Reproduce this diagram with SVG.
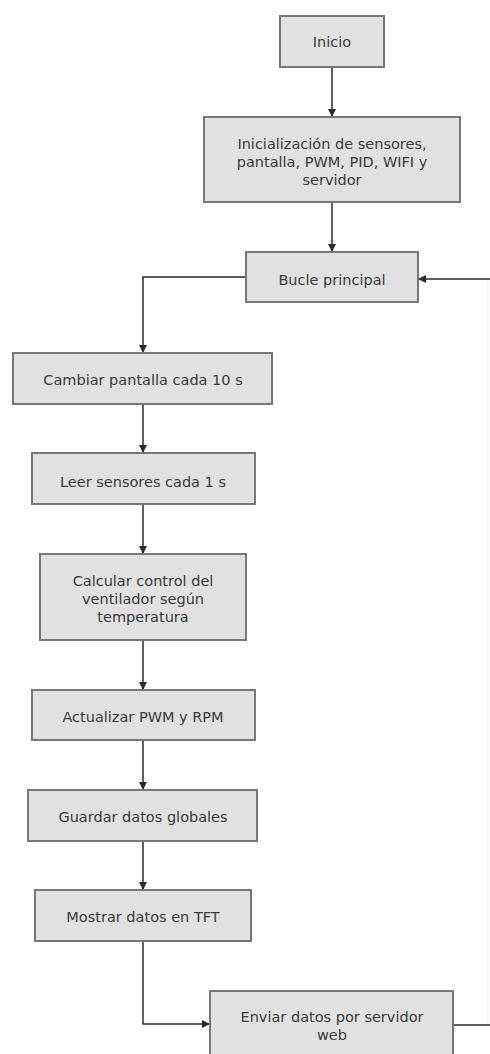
<svg xmlns="http://www.w3.org/2000/svg" width="490" height="1054" viewBox="0 0 490 1054">
<defs>
<marker id="ah" viewBox="0 0 10 10" refX="10" refY="5" markerWidth="8" markerHeight="8" markerUnits="userSpaceOnUse" orient="auto">
<path d="M0,0 L10,5 L0,10 z" fill="#2b2b2b"/>
</marker>
<style>
.box{fill:#e1e1e1;stroke:#777;stroke-width:2}
.t{font-family:"DejaVu Sans",Verdana,sans-serif;font-size:14.5px;fill:#3a3a3a;text-anchor:middle}
.c{fill:none;stroke:#2b2b2b;stroke-width:1.5}
.f{fill:none;stroke:#f0f0f0;stroke-width:1.5}
</style>
</defs>
<rect width="490" height="1054" fill="#fff"/>
<g id="connectors">
<path class="c" d="M332,67 V117" marker-end="url(#ah)"/>
<path class="c" d="M332,202 V252" marker-end="url(#ah)"/>
<path class="c" d="M246,277 H143 V353" marker-end="url(#ah)"/>
<path class="c" d="M143,404 V453" marker-end="url(#ah)"/>
<path class="c" d="M143,504 V554" marker-end="url(#ah)"/>
<path class="c" d="M143,640 V690" marker-end="url(#ah)"/>
<path class="c" d="M143,740 V790" marker-end="url(#ah)"/>
<path class="c" d="M143,841 V890" marker-end="url(#ah)"/>
<path class="c" d="M143,941 V1024 H210" marker-end="url(#ah)"/>
<path class="f" d="M488,1025 V279"/>
<path class="c" d="M453,1025 H490"/>
<path class="c" d="M490,279 H418" marker-end="url(#ah)"/>
</g>
<g id="inicio">
<rect class="box" x="280" y="16" width="104" height="51"/>
<text class="t" x="332" y="47">Inicio</text>
</g>
<g id="init">
<rect class="box" x="204" y="117" width="256" height="85"/>
<text class="t" x="332" y="149">Inicialización de sensores,</text>
<text class="t" x="332" y="167">pantalla, PWM, PID, WIFI y</text>
<text class="t" x="332" y="185">servidor</text>
</g>
<g id="bucle">
<rect class="box" x="246" y="252" width="172" height="50"/>
<text class="t" x="332" y="285">Bucle principal</text>
</g>
<g id="cambiar">
<rect class="box" x="13" y="353" width="259" height="51"/>
<text class="t" x="143" y="385">Cambiar pantalla cada 10 s</text>
</g>
<g id="leer">
<rect class="box" x="32" y="453" width="223" height="51"/>
<text class="t" x="143" y="487">Leer sensores cada 1 s</text>
</g>
<g id="calcular">
<rect class="box" x="40" y="554" width="206" height="86"/>
<text class="t" x="143" y="586">Calcular control del</text>
<text class="t" x="143" y="604">ventilador según</text>
<text class="t" x="143" y="622">temperatura</text>
</g>
<g id="actualizar">
<rect class="box" x="32" y="690" width="223" height="50"/>
<text class="t" x="143" y="722">Actualizar PWM y RPM</text>
</g>
<g id="guardar">
<rect class="box" x="28" y="790" width="229" height="51"/>
<text class="t" x="143" y="822">Guardar datos globales</text>
</g>
<g id="mostrar">
<rect class="box" x="35" y="890" width="216" height="51"/>
<text class="t" x="143" y="922">Mostrar datos en TFT</text>
</g>
<g id="enviar">
<rect class="box" x="210" y="991" width="243" height="75"/>
<text class="t" x="332" y="1022">Enviar datos por servidor</text>
<text class="t" x="332" y="1040">web</text>
</g>
</svg>
